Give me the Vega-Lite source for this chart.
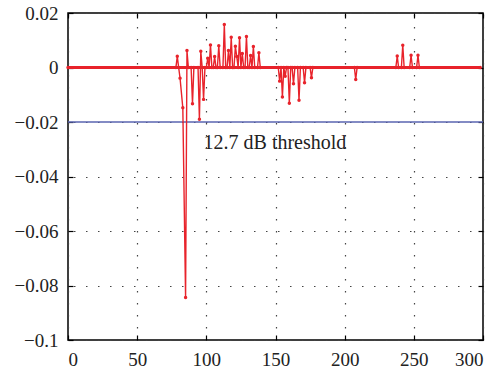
{
  "$schema": "https://vega.github.io/schema/vega-lite/v6.json",
  "width": 415,
  "height": 327,
  "autosize": {"type": "none"},
  "padding": {"left": 68, "top": 13, "right": 16, "bottom": 31},
  "background": "white",
  "config": {
    "view": {"stroke": "black", "strokeWidth": 1.5},
    "font": "Liberation Serif",
    "axis": {
      "labelFont": "Liberation Serif",
      "labelFontSize": 19,
      "labelColor": "#222",
      "domain": false,
      "tickColor": "black",
      "tickSize": -5,
      "tickWidth": 1.2,
      "gridColor": "#444",
      "gridDash": [1.5, 10.5],
      "gridWidth": 1.2,
      "title": null
    }
  },
  "datasets": {
    "signal": [
      {"x": 0, "y": 0}, {"x": 78, "y": 0}, {"x": 79, "y": 0.0041}, {"x": 80, "y": 0},
      {"x": 81, "y": -0.0039}, {"x": 83, "y": -0.0148}, {"x": 85, "y": -0.0844},
      {"x": 86, "y": 0.0062}, {"x": 87, "y": 0}, {"x": 89, "y": 0}, {"x": 90, "y": -0.0133},
      {"x": 91, "y": 0}, {"x": 94, "y": 0}, {"x": 95, "y": -0.019}, {"x": 96, "y": 0.006},
      {"x": 97, "y": 0}, {"x": 98, "y": -0.0117}, {"x": 99, "y": 0}, {"x": 100, "y": 0},
      {"x": 101, "y": 0.0034}, {"x": 102, "y": 0}, {"x": 103, "y": 0.0083}, {"x": 104, "y": 0},
      {"x": 105, "y": 0}, {"x": 106, "y": 0.004}, {"x": 107, "y": 0}, {"x": 108, "y": 0},
      {"x": 109, "y": 0.008}, {"x": 110, "y": 0}, {"x": 112, "y": 0}, {"x": 113, "y": 0.0158},
      {"x": 114, "y": 0}, {"x": 115, "y": 0}, {"x": 116, "y": 0.0062}, {"x": 117, "y": 0},
      {"x": 118, "y": 0.0111}, {"x": 119, "y": 0}, {"x": 120, "y": 0}, {"x": 121, "y": 0.0078},
      {"x": 122, "y": 0.004}, {"x": 123, "y": 0}, {"x": 124, "y": 0.0109}, {"x": 125, "y": 0},
      {"x": 126, "y": 0.0051}, {"x": 127, "y": 0}, {"x": 128, "y": 0}, {"x": 129, "y": 0.0114},
      {"x": 130, "y": 0}, {"x": 131, "y": 0}, {"x": 132, "y": 0.0044}, {"x": 133, "y": 0},
      {"x": 134, "y": 0.0077}, {"x": 135, "y": 0}, {"x": 137, "y": 0}, {"x": 138, "y": 0.0054},
      {"x": 139, "y": 0}, {"x": 152, "y": 0}, {"x": 153, "y": -0.005}, {"x": 154, "y": 0},
      {"x": 155, "y": -0.0108}, {"x": 156, "y": 0}, {"x": 157, "y": -0.0032}, {"x": 158, "y": 0},
      {"x": 159, "y": 0}, {"x": 160, "y": -0.0131}, {"x": 161, "y": 0}, {"x": 162, "y": 0},
      {"x": 163, "y": -0.006}, {"x": 164, "y": 0}, {"x": 166, "y": 0}, {"x": 167, "y": -0.012},
      {"x": 168, "y": 0}, {"x": 170, "y": 0}, {"x": 171, "y": -0.0056}, {"x": 172, "y": 0},
      {"x": 175, "y": 0}, {"x": 176, "y": -0.0038}, {"x": 177, "y": 0},
      {"x": 207, "y": 0}, {"x": 208, "y": -0.0044}, {"x": 209, "y": 0},
      {"x": 237, "y": 0}, {"x": 238, "y": 0.0042}, {"x": 239, "y": 0}, {"x": 241, "y": 0},
      {"x": 242, "y": 0.0082}, {"x": 243, "y": 0}, {"x": 247, "y": 0}, {"x": 248, "y": 0.0045},
      {"x": 249, "y": 0}, {"x": 252, "y": 0}, {"x": 253, "y": 0.0045}, {"x": 254, "y": 0},
      {"x": 298, "y": 0}
    ],
    "threshold": [{"x": 0, "x2": 300, "y": -0.02}],
    "baseline": [{"x": 0, "x2": 298, "y": 0}],
    "note": [{"x": 98, "y": -0.0278, "label": "12.7 dB threshold"}]
  },
  "resolve": {"axis": {"x": "independent", "y": "independent"}},
  "layer": [
    {
      "data": {"name": "threshold"},
      "mark": {"type": "rule", "color": "#5a64b0", "strokeWidth": 1.5},
      "encoding": {
        "x": {"field": "x", "type": "quantitative", "scale": {"domain": [0, 300], "nice": false},
              "axis": {"orient": "top", "labels": false, "grid": true, "values": [0, 50, 100, 150, 200, 250, 300], "gridDash": [1.5, 10.5]}},
        "x2": {"field": "x2"},
        "y": {"field": "y", "type": "quantitative", "scale": {"domain": [-0.1, 0.02], "nice": false},
              "axis": {"orient": "right", "labels": false, "grid": true, "values": [-0.1, -0.08, -0.06, -0.04, -0.02, 0, 0.02]}}
      }
    },
    {
      "data": {"name": "baseline"},
      "mark": {"type": "rule", "color": "#e8232b", "strokeWidth": 3},
      "encoding": {
        "x": {"field": "x", "type": "quantitative", "axis": null},
        "x2": {"field": "x2"},
        "y": {"field": "y", "type": "quantitative", "axis": null}
      }
    },
    {
      "data": {"name": "signal"},
      "mark": {"type": "line", "color": "#e8232b", "strokeWidth": 1.4, "point": {"filled": true, "size": 12, "color": "#e8232b"}},
      "encoding": {
        "x": {"field": "x", "type": "quantitative",
              "axis": {"orient": "bottom", "grid": false, "values": [0, 50, 100, 150, 200, 250, 300], "labelPadding": 15}},
        "y": {"field": "y", "type": "quantitative",
              "axis": {"orient": "left", "grid": false, "values": [-0.1, -0.08, -0.06, -0.04, -0.02, 0, 0.02], "format": ".2~f", "labelPadding": 15}}
      }
    },
    {
      "data": {"name": "note"},
      "mark": {"type": "text", "align": "left", "baseline": "middle", "fontSize": 20, "font": "Liberation Serif", "color": "#222"},
      "encoding": {
        "x": {"field": "x", "type": "quantitative", "axis": null},
        "y": {"field": "y", "type": "quantitative", "axis": null},
        "text": {"field": "label"}
      }
    }
  ]
}
